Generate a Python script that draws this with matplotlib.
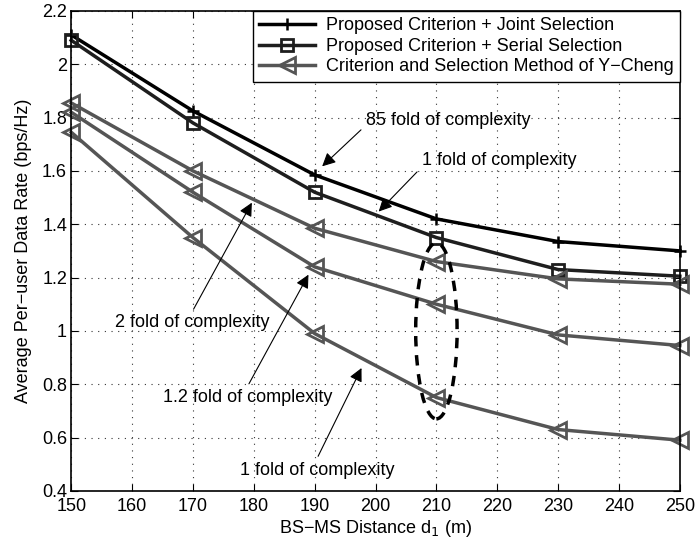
import numpy as np
import matplotlib.pyplot as plt
from matplotlib.patches import Ellipse

plt.rcParams['font.family'] = ['Liberation Sans', 'DejaVu Sans']

# distances (m)
dist = [150, 170, 190, 210, 230, 250]

# data rates (bps/Hz)
joint = [2.11, 1.825, 1.585, 1.42, 1.335, 1.30]
serial = [2.09, 1.78, 1.52, 1.35, 1.23, 1.205]
cheng_2fold = [1.855, 1.60, 1.385, 1.26, 1.195, 1.175]
cheng_12fold = [1.82, 1.52, 1.24, 1.10, 0.985, 0.945]
cheng_1fold = [1.745, 1.35, 0.99, 0.75, 0.63, 0.59]

legend_labels = ['Proposed Criterion + Joint Selection',
                 'Proposed Criterion + Serial Selection',
                 'Criterion and Selection Method of Y\u2212Cheng']

gray = '#555555'
fs = 13

fig = plt.figure(figsize=(6.98, 5.46), dpi=100)
ax = fig.add_axes([0.102, 0.101, 0.872, 0.879])

ax.plot(dist, joint, color='black', lw=2.5, marker='+', ms=9, mew=1.8,
        label=legend_labels[0], clip_on=False)
ax.plot(dist, serial, color='#1e1e1e', lw=2.5, marker='s', ms=9, mew=2,
        mfc='none', label=legend_labels[1], clip_on=False)
ax.plot(dist, cheng_2fold, color=gray, lw=2.5, marker='<', ms=11, mew=2,
        mfc='none', label=legend_labels[2], clip_on=False)
ax.plot(dist, cheng_12fold, color=gray, lw=2.5, marker='<', ms=11, mew=2,
        mfc='none', clip_on=False)
ax.plot(dist, cheng_1fold, color=gray, lw=2.5, marker='<', ms=11, mew=2,
        mfc='none', clip_on=False)

ax.set_xlim(150, 250)
ax.set_ylim(0.4, 2.2)
ax.set_xticks(np.arange(150, 251, 10))
ax.set_yticks(np.arange(0.4, 2.21, 0.2))
ax.set_yticklabels(['0.4', '0.6', '0.8', '1', '1.2', '1.4', '1.6', '1.8', '2', '2.2'])
ax.tick_params(direction='in', top=True, right=True, labelsize=fs, length=5)
ax.tick_params(axis='x', pad=5)
ax.tick_params(axis='y', pad=3)
ax.grid(True, linestyle=(0, (1, 5)), color='#333333', lw=0.8)
for s in ax.spines.values():
    s.set_linewidth(1.2)

ax.set_xlabel('BS\u2212MS Distance d$_1$ (m)', fontsize=fs, labelpad=2)
ax.set_ylabel('Average Per\u2212user Data Rate (bps/Hz)', fontsize=fs, labelpad=7)

leg = ax.legend(loc='upper right', fontsize=fs, frameon=True, fancybox=False,
                edgecolor='black', borderaxespad=0.0, handlelength=3.1,
                labelspacing=0.2, borderpad=0.35, handletextpad=0.6)
leg.get_frame().set_linewidth(1.0)
leg.get_frame().set_alpha(1)

arrow = dict(arrowstyle='-|>', color='black', lw=0.8, mutation_scale=20)
ax.annotate('85 fold of complexity', xy=(190.9, 1.61), xytext=(198.4, 1.79),
            fontsize=fs, va='center', ha='left', arrowprops=dict(arrow, relpos=(0, 0.2)))
ax.annotate('1 fold of complexity', xy=(200.2, 1.44), xytext=(207.6, 1.64),
            fontsize=fs, va='center', ha='left', arrowprops=dict(arrow, relpos=(0, 0.1)))
ax.annotate('2 fold of complexity', xy=(179.9, 1.49), xytext=(157.2, 1.03),
            fontsize=fs, va='center', ha='left', arrowprops=dict(arrow, relpos=(0.49, 1)))
ax.annotate('1.2 fold of complexity', xy=(189.2, 1.22), xytext=(165.1, 0.75),
            fontsize=fs, va='center', ha='left', arrowprops=dict(arrow, relpos=(0.49, 1)))
ax.annotate('1 fold of complexity', xy=(197.9, 0.87), xytext=(177.7, 0.478),
            fontsize=fs, va='center', ha='left', arrowprops=dict(arrow, relpos=(0.49, 1)))

ax.add_patch(Ellipse((210, 1.0), 6.8, 0.66, fill=False, ls=(0, (3, 2.5)),
                     lw=2.5, color='black', zorder=5))

fig.savefig('out.png', dpi=100)
